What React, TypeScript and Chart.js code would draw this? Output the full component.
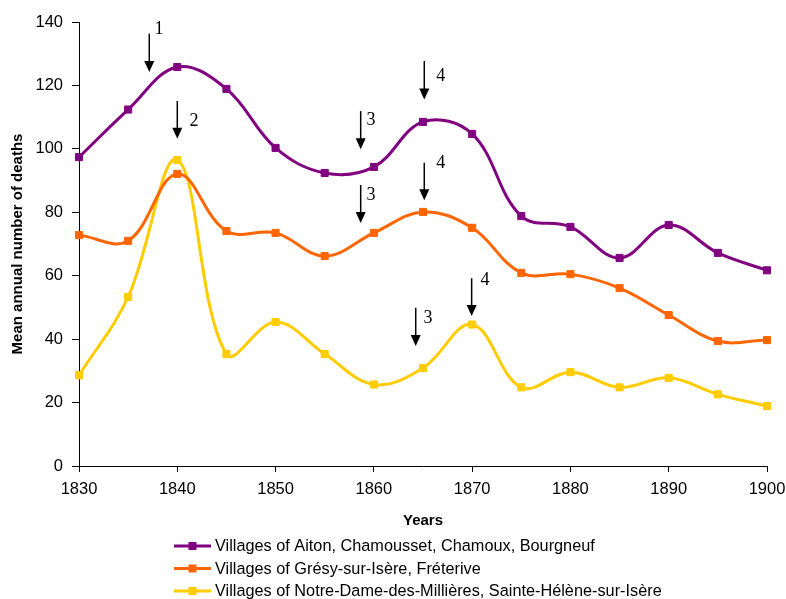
import React, { useEffect, useRef } from "react";
import { Chart, registerables } from "chart.js";

Chart.register(...registerables);

const years = [1830, 1835, 1840, 1845, 1850, 1855, 1860, 1865, 1870, 1875, 1880, 1885, 1890, 1895, 1900];
const aiton = [97.4, 112.4, 125.8, 118.9, 100.3, 92.4, 94.3, 108.5, 104.7, 78.8, 75.4, 65.6, 76.0, 67.2, 61.7];
const gresy = [72.8, 71.0, 92.1, 74.1, 73.5, 66.2, 73.5, 80.1, 75.1, 60.9, 60.5, 56.1, 47.6, 39.4, 39.7];
const notreDame = [28.6, 53.3, 96.5, 35.3, 45.4, 35.3, 25.7, 30.9, 44.6, 24.8, 29.6, 24.8, 27.8, 22.6, 18.9];

const seriesLabels = [
  "Villages of Aiton, Chamousset, Chamoux, Bourgneuf",
  "Villages of Grésy-sur-Isère, Fréterive",
  "Villages of Notre-Dame-des-Millières, Sainte-Hélène-sur-Isère",
];
const seriesColors = ["#800080", "#FF6600", "#FFCC00"];

const xTicks = [1830, 1840, 1850, 1860, 1870, 1880, 1890, 1900];
const yTicks = [0, 20, 40, 60, 80, 100, 120, 140];

// annotation arrows (in data units)
const arrowYears = [1837.15, 1840.0, 1858.66, 1865.13, 1858.66, 1865.13, 1864.26, 1869.95];
const arrowTops = [136.3, 115.1, 111.9, 127.7, 88.6, 95.6, 49.9, 59.2];
const arrowTips = [124.2, 103.2, 99.9, 115.6, 76.6, 83.8, 37.8, 47.3];
const arrowLabels = ["1", "2", "3", "4", "3", "4", "3", "4"];
const arrowLabelYears = [1838.14, 1841.7, 1859.7, 1866.8, 1859.7, 1866.8, 1865.5, 1871.3];
const arrowLabelValues = [137.8, 108.8, 109.1, 122.8, 85.5, 95.6, 46.6, 58.6];

const FONT = "'Liberation Sans', Arial, sans-serif";

const arrowsPlugin = {
  id: "arrows",
  afterDatasetsDraw(chart: any) {
    const { ctx } = chart;
    const xs = chart.scales.x;
    const ys = chart.scales.y;
    ctx.save();
    for (let i = 0; i < arrowYears.length; i++) {
      const x = xs.getPixelForValue(arrowYears[i]);
      const yTop = ys.getPixelForValue(arrowTops[i]);
      const yTip = ys.getPixelForValue(arrowTips[i]);
      ctx.strokeStyle = "#000";
      ctx.fillStyle = "#000";
      ctx.lineWidth = 1.5;
      ctx.beginPath();
      ctx.moveTo(x, yTop);
      ctx.lineTo(x, yTip - 10);
      ctx.stroke();
      ctx.beginPath();
      ctx.moveTo(x - 5, yTip - 11);
      ctx.lineTo(x + 5, yTip - 11);
      ctx.lineTo(x, yTip);
      ctx.closePath();
      ctx.fill();
      ctx.font = "18px 'Liberation Serif', 'Times New Roman', serif";
      ctx.textAlign = "center";
      ctx.textBaseline = "middle";
      ctx.fillText(
        arrowLabels[i],
        xs.getPixelForValue(arrowLabelYears[i]),
        ys.getPixelForValue(arrowLabelValues[i])
      );
    }
    ctx.restore();
  },
};

const legendPlugin = {
  id: "customLegend",
  afterDraw(chart: any) {
    const { ctx } = chart;
    ctx.save();
    const lineX0 = 174;
    const lineX1 = 211;
    const textX = 215;
    const rowY0 = chart.height - 53;
    chart.data.datasets.forEach((ds: any, i: number) => {
      const y = rowY0 + i * 22.5;
      ctx.strokeStyle = ds.borderColor;
      ctx.lineWidth = 3;
      ctx.beginPath();
      ctx.moveTo(lineX0, y);
      ctx.lineTo(lineX1, y);
      ctx.stroke();
      ctx.fillStyle = ds.borderColor;
      ctx.fillRect((lineX0 + lineX1) / 2 - 4, y - 4, 8, 8);
      ctx.fillStyle = "#000";
      ctx.font = `16.3px ${FONT}`;
      ctx.textAlign = "left";
      ctx.textBaseline = "middle";
      ctx.fillText(ds.label, textX, y + 1);
    });
    ctx.restore();
  },
};

export default function App() {
  const ref = useRef<HTMLCanvasElement | null>(null);

  useEffect(() => {
    if (!ref.current) return;
    const seriesValues = [aiton, gresy, notreDame];
    const chart = new Chart(ref.current, {
      type: "line",
      data: {
        datasets: seriesValues.map((vals, i) => ({
          label: seriesLabels[i],
          data: years.map((yr, j) => ({ x: yr, y: vals[j] })),
          borderColor: seriesColors[i],
          backgroundColor: seriesColors[i],
          pointBackgroundColor: seriesColors[i],
          pointBorderColor: seriesColors[i],
          pointStyle: "rect",
          pointRadius: 5,
          pointBorderWidth: 1,
          borderWidth: 3,
          tension: 0.38,
          fill: false,
          clip: false,
        })),
      },
      options: {
        responsive: false,
        animation: false,
        events: [],
        layout: { padding: { top: 22, right: 19, bottom: 69, left: 0 } },
        plugins: {
          legend: { display: false },
          tooltip: { enabled: false },
        },
        scales: {
          x: {
            type: "linear",
            min: 1830,
            max: 1900,
            afterBuildTicks: (s: any) => {
              s.ticks = xTicks.map((v) => ({ value: v }));
            },
            afterFit: (s: any) => {
              s.height = 64;
              s.paddingLeft = 0;
              s.paddingRight = 0;
            },
            ticks: {
              color: "#000",
              font: { family: FONT, size: 16.5 },
              padding: 8,
              maxRotation: 0,
              autoSkip: false,
              callback: (v: any) => String(v),
            },
            grid: {
              drawOnChartArea: false,
              drawTicks: true,
              tickLength: 6,
              color: "#000",
            },
            border: { color: "#000", width: 1 },
            title: {
              display: true,
              text: "Years",
              color: "#000",
              font: { family: FONT, size: 15, weight: "bold" },
              padding: { top: 0, bottom: 0 },
            },
          },
          y: {
            min: 0,
            max: 140,
            afterBuildTicks: (s: any) => {
              s.ticks = yTicks.map((v) => ({ value: v }));
            },
            afterFit: (s: any) => {
              s.width = 79;
              s.paddingTop = 0;
              s.paddingBottom = 0;
            },
            ticks: {
              color: "#000",
              font: { family: FONT, size: 16.5 },
              padding: 9,
              callback: (v: any) => String(v),
            },
            grid: {
              drawOnChartArea: false,
              drawTicks: true,
              tickLength: 7,
              color: "#000",
            },
            border: { color: "#000", width: 1 },
            title: {
              display: true,
              text: "Mean annual number of deaths",
              color: "#000",
              font: { family: FONT, size: 15, weight: "bold" },
              padding: { top: 9, bottom: 0 },
            },
          },
        },
      },
      plugins: [arrowsPlugin, legendPlugin],
    } as any);
    return () => chart.destroy();
  }, []);

  return (
    <div style={{ position: "absolute", left: 0, top: 0, width: 786, height: 599, background: "#fff" }}>
      <canvas ref={ref} width={786} height={599} />
    </div>
  );
}
